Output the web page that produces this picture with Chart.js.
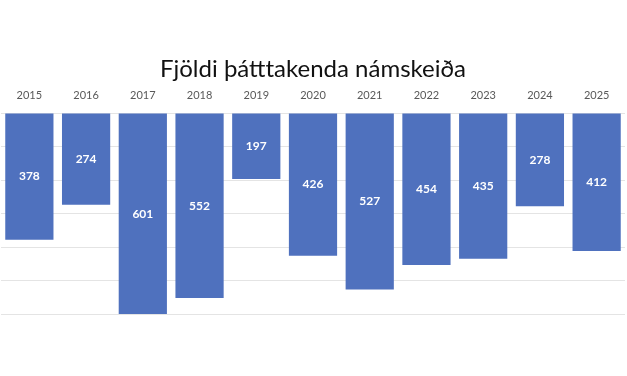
<!DOCTYPE html>
<html lang="is">
<head>
    <meta charset="UTF-8">
    <title>Fjöldi þátttakenda námskeiða</title>
    <script src="https://cdn.jsdelivr.net/npm/chart.js"></script>
    <style>
        body { margin: 0; padding: 0; background: #fff; }
        .wrap { width: 627px; height: 376px; }
    </style>
</head>
<body>
    <div class="wrap"><canvas id="chart"></canvas></div>
    <script>
        const years = ['2015', '2016', '2017', '2018', '2019', '2020', '2021', '2022', '2023', '2024', '2025'];
        const participants = [378, 274, 601, 552, 197, 426, 527, 454, 435, 278, 412];

        // values written in the middle of each bar
        const barLabels = {
            id: 'barLabels',
            afterDatasetsDraw(chart) {
                const ctx = chart.ctx;
                const meta = chart.getDatasetMeta(0);
                ctx.save();
                ctx.fillStyle = '#ffffff';
                ctx.font = 'bold 12px Lato, "Open Sans", sans-serif';
                ctx.textAlign = 'center';
                ctx.textBaseline = 'middle';
                meta.data.forEach((bar, i) => {
                    ctx.fillText(chart.data.datasets[0].data[i], bar.x, (bar.y + bar.base) / 2);
                });
                ctx.restore();
            }
        };

        new Chart(document.getElementById('chart'), {
            type: 'bar',
            data: {
                labels: years,
                datasets: [{
                    label: 'Fjöldi',
                    data: participants,
                    backgroundColor: '#4F71BE',
                    categoryPercentage: 0.85,
                    barPercentage: 1.0
                }]
            },
            options: {
                responsive: true, maintainAspectRatio: false,
                animation: false,
                layout: { padding: { top: 55, bottom: 62, left: 1, right: 2 } },
                plugins: {
                    legend: { display: false },
                    tooltip: { enabled: false },
                    title: {
                        display: true,
                        text: 'Fjöldi þátttakenda námskeiða',
                        color: '#111',
                        font: { family: 'Lato, "Open Sans", sans-serif', size: 24, weight: 'normal' },
                        padding: { top: 0, bottom: 2 }
                    }
                },
                scales: {
                    x: {
                        position: 'top',
                        grid: { display: false },
                        border: { display: false },
                        ticks: { color: '#595959', font: { family: 'Lato, "Open Sans", sans-serif', size: 11 }, padding: 3 }
                    },
                    y: {
                        reverse: true,
                        min: 0, max: 600,
                        ticks: { display: false, stepSize: 100 },
                        border: { display: false },
                        grid: { color: '#e4e4e4', drawTicks: false }
                    }
                }
            },
            plugins: [barLabels]
        });
    </script>
</body>
</html>
